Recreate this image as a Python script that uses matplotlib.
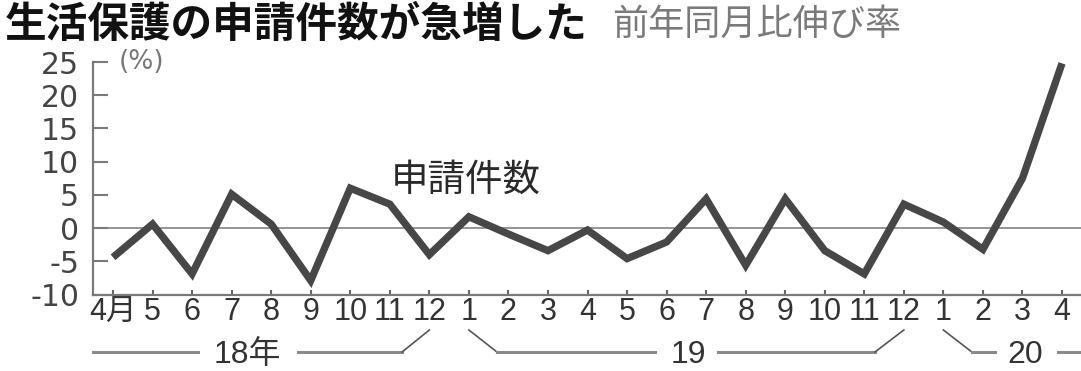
import matplotlib
matplotlib.use('Agg')
import matplotlib.pyplot as plt
from matplotlib import font_manager

# ---- data ----
month_labels = ['4月', '5', '6', '7', '8', '9', '10', '11', '12',
                '1', '2', '3', '4', '5', '6', '7', '8', '9', '10', '11', '12',
                '1', '2', '3', '4']
growth_pct = [-4.4, 0.6, -6.9, 5.1, 0.6, -7.9, 6.0, 3.6, -4.0,
              1.7, -0.9, -3.4, -0.3, -4.6, -2.1, 4.4, -5.6, 4.4, -3.4, -6.9, 3.6,
              0.9, -3.2, 7.5, 24.8]
year_labels = ['18年', '19', '20']
y_ticks = [-10, -5, 0, 5, 10, 15, 20, 25]
y_tick_labels = ['-10', '-5', '0', '5', '10', '15', '20', '25']
title_text = '生活保護の申請件数が急増した'
subtitle_text = '前年同月比伸び率'
series_label = '申請件数'
unit_label = '(%)'

# ---- fonts ----
names = {f.name for f in font_manager.fontManager.ttflist}
CJK = 'Noto Sans CJK JP'
narrow = 'Liberation Sans Narrow' if 'Liberation Sans Narrow' in names else 'Liberation Sans'
xfam = [narrow, CJK, 'DejaVu Sans']
plt.rcParams['font.family'] = [CJK, 'DejaVu Sans']

W, H = 1081, 371
fig = plt.figure(figsize=(W / 100, H / 100), dpi=100)
fig.patch.set_facecolor('white')

ax_left, ax_right, ax_bot, ax_top = 93, 1081, 294.5, 62
ax = fig.add_axes([ax_left / W, (H - ax_bot) / H, (ax_right - ax_left) / W, (ax_bot - ax_top) / H])
ax.set_facecolor('none')

x = list(range(len(growth_pct)))
ax.set_xlim(-0.506, 24.48)
ax.set_ylim(-10, 25)

ax.axhline(0, color='#8c8c8c', lw=1.3, zorder=1)
ax.plot(x, growth_pct, color='#474747', lw=5.3, solid_joinstyle='miter',
        solid_capstyle='butt', clip_on=False, zorder=3)

for s in ['top', 'right']:
    ax.spines[s].set_visible(False)
for s in ['left', 'bottom']:
    ax.spines[s].set_color('#7a7a7a')
    ax.spines[s].set_linewidth(1.6)

ax.set_yticks(y_ticks)
ax.set_yticklabels(y_tick_labels, fontsize=21.5, color='#444444', family=['DejaVu Sans'])
ax.tick_params(axis='y', direction='in', length=10.5, width=1.5, color='#7a7a7a', pad=10)

ax.set_xticks(x)
ax.set_xticklabels(month_labels, fontsize=22, color='#333333', family=xfam)
ax.tick_params(axis='x', direction='in', length=3.5, width=1.5, color='#666666', pad=2)

# unit label and series label
ax.text(0.72, 25.0, unit_label, fontsize=19, color='#777777', ha='center', va='center',
        family=['DejaVu Sans'])
ax.text(8.93, 7.2, series_label, fontsize=27, color='#2a2a2a', ha='center', va='center')

# title & subtitle
fig.text(5 / W, (H - 25) / H, title_text, fontsize=30, fontweight='bold', color='#111111',
         ha='left', va='center')
fig.text(612 / W, (H - 25) / H, subtitle_text, fontsize=26, color='#7a7a7a',
         ha='left', va='center')

# year brackets below month labels
tr = ax.get_xaxis_transform()
def fy(px):
    return (ax_bot - px) / (ax_bot - ax_top)

yl = fy(352)
yt = fy(330)
ytxt = fy(355)
hl = dict(color='#8a8a8a', lw=2.2, transform=tr, clip_on=False)
sl = dict(color='#555555', lw=1.2, transform=tr, clip_on=False)

# 18年
ax.plot([-0.506, 2.15], [yl, yl], **hl)
ax.plot([4.68, 7.31], [yl, yl], **hl)
ax.plot([7.31, 8.0], [yl, yt], **sl)
# 19
ax.plot([9.0, 9.71], [yt, yl], **sl)
ax.plot([9.71, 13.71], [yl, yl], **hl)
ax.plot([15.3, 19.27], [yl, yl], **hl)
ax.plot([19.27, 20.0], [yl, yt], **sl)
# 20
ax.plot([21.0, 21.72], [yt, yl], **sl)
ax.plot([21.72, 22.3], [yl, yl], **hl)
ax.plot([23.9, 24.48], [yl, yl], **hl)

year_pos = [3.41, 14.54, 23.07]
for lab, xp in zip(year_labels, year_pos):
    ax.text(xp, ytxt, lab, transform=tr, fontsize=23, color='#333333',
            ha='center', va='center', family=xfam, clip_on=False)

fig.savefig('out.png', dpi=100, facecolor='white')
